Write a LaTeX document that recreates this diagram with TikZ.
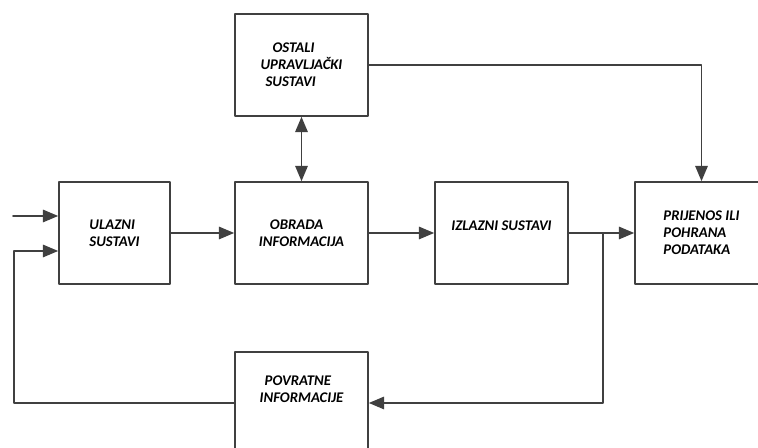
\documentclass[tikz,border=0pt]{standalone}
\usepackage{fontspec}
\setmainfont{Carlito}
\usepackage{tikz}
\usetikzlibrary{arrows}

\tikzset{
  blok/.style={draw=black!75, line width=1pt, fill=white, minimum width=2.66cm,
    minimum height=2.04cm, inner sep=0pt, font=\fontsize{8.4}{9.7}\selectfont\bfseries\itshape},
  veza/.style={draw=black!75, line width=1pt}
}

\begin{document}
\begin{tikzpicture}[line cap=round,line join=round,>=triangle 45,x=1.0cm,y=1.0cm]

\clip (0.,0.) rectangle (15.16,8.96);

% blokovi
\node[blok, minimum width=2.22cm, align=left] (ulaz) at (2.29,4.3) {ULAZNI\\SUSTAVI};
\node[blok, align=left] (obrada) at (6.03,4.3) {\hspace*{0.22cm}OBRADA\\INFORMACIJA};
\node[blok, align=left] (ostali) at (6.03,7.66) {\hspace*{0.24cm}OSTALI\\UPRAVLJAČKI\\\hspace*{0.1cm}SUSTAVI};
\node[blok] (izlaz) at (10.03,4.3) {\raisebox{0.05cm}[0pt][0pt]{IZLAZNI SUSTAVI}};
\node[blok, align=left] (prijenos) at (14.03,4.3) {PRIJENOS ILI\\POHRANA\\PODATAKA};
\node[blok, align=left] (povrat) at (6.03,0.9) {\hspace*{0.1cm}POVRATNE\\INFORMACIJE\\[0.2cm]};

% pomocne tocke
\coordinate (ulazak) at (0.26,4.64);
\coordinate (petlja) at (0.28,3.94);
\coordinate (grana) at (12.06,4.3);

% veze
\draw[veza,->] (ulazak) -- (ulazak -| ulaz.west);
\draw[veza,->] (ulaz) -- (obrada);
\draw[veza,->] (obrada) -- (izlaz);
\draw[veza,->] (izlaz) -- (prijenos);
\draw[veza,<->] (ostali) -- (obrada);
\draw[veza,->] (ostali.east) -| (prijenos.north);
\draw[veza,->] (grana) |- (povrat.east);
\draw[veza,->] (povrat.west) -| (petlja) -- (petlja -| ulaz.west);

\end{tikzpicture}
\end{document}
